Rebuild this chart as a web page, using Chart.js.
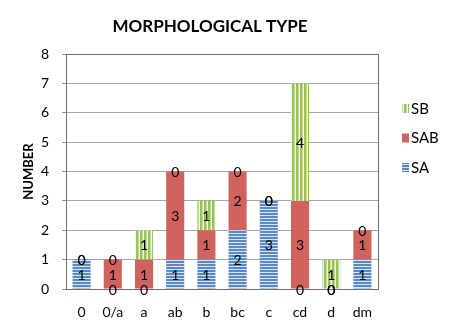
<!DOCTYPE html>
<html>
<head>
<meta charset="utf-8">
<script src="https://cdn.jsdelivr.net/npm/chart.js@4"></script>
<style>
  html, body { margin: 0; padding: 0; background: #fff; }
  #wrap { width: 458px; height: 330px; }
</style>
</head>
<body>
<div id="wrap"><canvas id="myChart" width="458" height="330"></canvas></div>
<script>
// data block
const categories = ['0', '0/a', 'a', 'ab', 'b', 'bc', 'c', 'cd', 'd', 'dm'];
const saValues  = [1, 0, 0, 1, 1, 2, 3, 0, 0, 1];
const sabValues = [0, 1, 1, 3, 1, 2, 0, 3, 0, 1];
const sbValues  = [0, 0, 1, 0, 1, 0, 0, 4, 1, 0];
const yTicks = [0, 1, 2, 3, 4, 5, 6, 7, 8];

const FONT = 'Lato, "Open Sans", sans-serif';

// striped fills
function stripes(horizontal, color, bg, period, thick) {
    const c = document.createElement('canvas');
    c.width = period; c.height = period;
    const g = c.getContext('2d');
    g.fillStyle = bg;
    g.fillRect(0, 0, period, period);
    g.fillStyle = color;
    if (horizontal) g.fillRect(0, 0, period, thick);
    else g.fillRect(0, 0, thick, period);
    return g.createPattern(c, 'repeat');
}

const ctx = document.getElementById('myChart');
const saFill = stripes(true, '#5a8ac6', '#d8e4f3', 3, 2);
const sbFill = stripes(false, '#9bc15a', '#eef5e2', 4, 2.5);

const series = [
    { label: 'SA', data: saValues, fill: saFill },
    { label: 'SAB', data: sabValues, fill: '#d0635e' },
    { label: 'SB', data: sbValues, fill: sbFill }
];

// title, legend, frame and value labels
const extras = {
    id: 'extras',
    afterDatasetsDraw(chart) {
        const c = chart.ctx;
        const a = chart.chartArea;
        c.save();
        c.strokeStyle = '#6e6e6e';
        c.lineWidth = 1;
        c.strokeRect(Math.round(a.left) + 0.5, Math.round(a.top) + 0.5,
            Math.round(a.right - a.left), Math.round(a.bottom - a.top));

        c.fillStyle = '#000';
        c.font = '14px ' + FONT;
        c.textAlign = 'center';
        c.textBaseline = 'middle';
        chart.data.datasets.forEach((ds, i) => {
            chart.getDatasetMeta(i).data.forEach((el, j) => {
                c.fillText(String(ds.data[j]), el.x, (el.y + el.base) / 2 + 1);
            });
        });

        // title
        c.font = 'bold 17px ' + FONT;
        c.fillText('MORPHOLOGICAL TYPE', 210, 27);

        // legend (reverse order)
        c.font = '15px ' + FONT;
        c.textAlign = 'left';
        const rows = [series[2], series[1], series[0]];
        rows.forEach((s, k) => {
            const y = 109 + k * 29.5;
            c.fillStyle = s.fill;
            c.fillRect(402, y - 5, 7, 9);
            c.fillStyle = '#000';
            c.fillText(s.label, 411, y);
        });
        c.restore();
    }
};

const config = {
    type: 'bar',
    data: {
        labels: categories,
        datasets: series.map(s => ({
            label: s.label,
            data: s.data,
            backgroundColor: s.fill,
            borderWidth: 0,
            categoryPercentage: 1,
            barPercentage: 0.58
        }))
    },
    options: {
        responsive: false,
        animation: false,
        layout: { padding: { left: 0, right: 80, top: 54, bottom: 0 } },
        plugins: {
            legend: { display: false },
            title: { display: false },
            tooltip: { enabled: false }
        },
        scales: {
            x: {
                stacked: true,
                grid: { display: false, drawTicks: false },
                border: { display: false },
                ticks: { color: '#000', font: { family: FONT, size: 14 }, padding: 15, maxRotation: 0 },
                afterFit(scale) { scale.height = 41; }
            },
            y: {
                stacked: true,
                min: 0,
                max: 8,
                afterBuildTicks(scale) { scale.ticks = yTicks.map(v => ({ value: v })); },
                grid: { color: '#a6a6a6', tickLength: 4, tickColor: '#8c8c8c' },
                border: { display: false },
                ticks: { color: '#000', font: { family: FONT, size: 14 }, padding: 13 },
                title: {
                    display: true,
                    text: 'NUMBER',
                    color: '#000',
                    font: { family: FONT, size: 13, weight: 'bold' },
                    padding: { top: 21, bottom: 0 }
                },
                afterFit(scale) { scale.width = 66; }
            }
        }
    },
    plugins: [extras]
};

const myChart = new Chart(ctx, config);
</script>
</body>
</html>
